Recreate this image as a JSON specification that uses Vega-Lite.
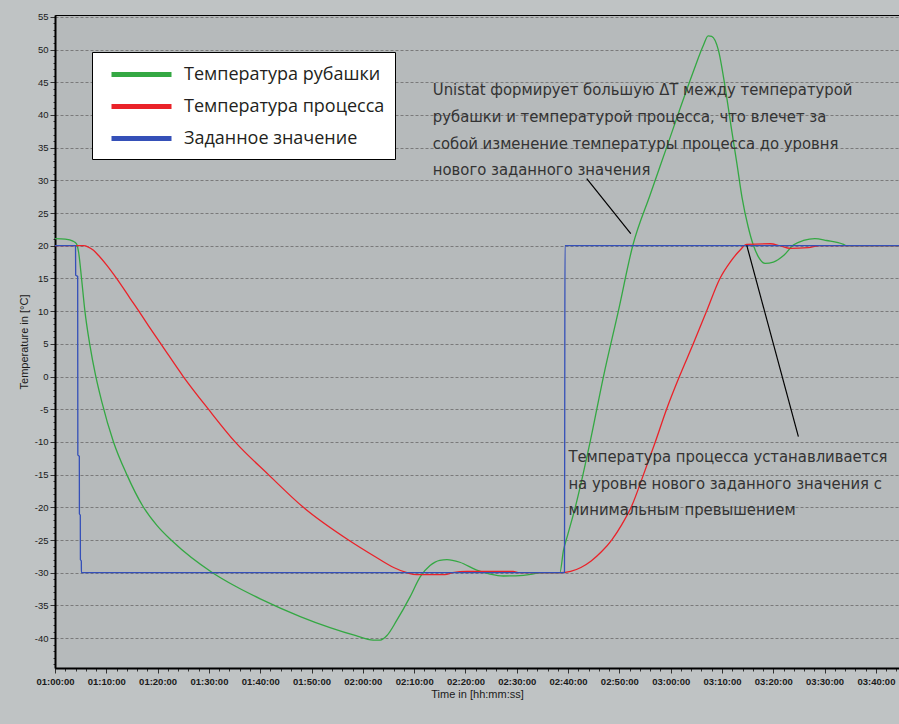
{
  "$schema": "https://vega.github.io/schema/vega-lite/v6.json",
  "width": 844,
  "height": 653,
  "autosize": {"type": "none"},
  "padding": {"left": 55, "top": 15, "right": 0, "bottom": 56},
  "background": "#bfc3c4",
  "config": {
    "view": {"fill": "#b6babb", "stroke": "#000000", "strokeWidth": 1},
    "font": "Liberation Sans"
  },
  "datasets": {
    "series": [
      {"s": "Температура рубашки", "t": 60, "v": 21.1},
      {"s": "Температура рубашки", "t": 62, "v": 21.0},
      {"s": "Температура рубашки", "t": 63.5, "v": 20.7},
      {"s": "Температура рубашки", "t": 64.2, "v": 20.3},
      {"s": "Температура рубашки", "t": 64.6, "v": 19.0},
      {"s": "Температура рубашки", "t": 65.2, "v": 14.8},
      {"s": "Температура рубашки", "t": 65.8, "v": 10.2},
      {"s": "Температура рубашки", "t": 66.8, "v": 4.8},
      {"s": "Температура рубашки", "t": 67.9, "v": 0.2},
      {"s": "Температура рубашки", "t": 69.1, "v": -3.8},
      {"s": "Температура рубашки", "t": 71.4, "v": -10},
      {"s": "Температура рубашки", "t": 74.0, "v": -15},
      {"s": "Температура рубашки", "t": 77.1, "v": -19.8},
      {"s": "Температура рубашки", "t": 79.9, "v": -22.8},
      {"s": "Температура рубашки", "t": 82.9, "v": -25.2},
      {"s": "Температура рубашки", "t": 90.7, "v": -30},
      {"s": "Температура рубашки", "t": 95.0, "v": -32.0},
      {"s": "Температура рубашки", "t": 100.0, "v": -34.0},
      {"s": "Температура рубашки", "t": 107.8, "v": -36.7},
      {"s": "Температура рубашки", "t": 113.6, "v": -38.4},
      {"s": "Температура рубашки", "t": 118.5, "v": -39.6},
      {"s": "Температура рубашки", "t": 122.0, "v": -40.3},
      {"s": "Температура рубашки", "t": 123.4, "v": -40.3},
      {"s": "Температура рубашки", "t": 124.7, "v": -39.6},
      {"s": "Температура рубашки", "t": 126.6, "v": -37.3},
      {"s": "Температура рубашки", "t": 129.2, "v": -33.7},
      {"s": "Температура рубашки", "t": 131.2, "v": -30.6},
      {"s": "Температура рубашки", "t": 133.1, "v": -28.9},
      {"s": "Температура рубашки", "t": 135.0, "v": -28.1},
      {"s": "Температура рубашки", "t": 136.4, "v": -28.0},
      {"s": "Температура рубашки", "t": 138.9, "v": -28.4},
      {"s": "Температура рубашки", "t": 142.2, "v": -29.6},
      {"s": "Температура рубашки", "t": 144.8, "v": -30.2},
      {"s": "Температура рубашки", "t": 147.4, "v": -30.5},
      {"s": "Температура рубашки", "t": 151.3, "v": -30.4},
      {"s": "Температура рубашки", "t": 155.2, "v": -30.0},
      {"s": "Температура рубашки", "t": 158.4, "v": -30.0},
      {"s": "Температура рубашки", "t": 159.1, "v": -26.6},
      {"s": "Температура рубашки", "t": 159.9, "v": -24.3},
      {"s": "Температура рубашки", "t": 161.4, "v": -20},
      {"s": "Температура рубашки", "t": 164.3, "v": -10},
      {"s": "Температура рубашки", "t": 166.9, "v": 0},
      {"s": "Температура рубашки", "t": 169.8, "v": 10},
      {"s": "Температура рубашки", "t": 172.6, "v": 20},
      {"s": "Температура рубашки", "t": 176.0, "v": 27.8},
      {"s": "Температура рубашки", "t": 179.2, "v": 35.0},
      {"s": "Температура рубашки", "t": 181.8, "v": 40.9},
      {"s": "Температура рубашки", "t": 184.4, "v": 46.6},
      {"s": "Температура рубашки", "t": 186.4, "v": 50.7},
      {"s": "Температура рубашки", "t": 187.3, "v": 52.1},
      {"s": "Температура рубашки", "t": 188.0, "v": 52.0},
      {"s": "Температура рубашки", "t": 189.3, "v": 49.9},
      {"s": "Температура рубашки", "t": 190.6, "v": 44.3},
      {"s": "Температура рубашки", "t": 191.9, "v": 37.6},
      {"s": "Температура рубашки", "t": 192.9, "v": 32.6},
      {"s": "Температура рубашки", "t": 193.9, "v": 27.4},
      {"s": "Температура рубашки", "t": 195.1, "v": 22.9},
      {"s": "Температура рубашки", "t": 196.1, "v": 20.1},
      {"s": "Температура рубашки", "t": 197.1, "v": 18.3},
      {"s": "Температура рубашки", "t": 198.4, "v": 17.3},
      {"s": "Температура рубашки", "t": 200.0, "v": 17.5},
      {"s": "Температура рубашки", "t": 202.0, "v": 18.5},
      {"s": "Температура рубашки", "t": 203.9, "v": 20.1},
      {"s": "Температура рубашки", "t": 205.9, "v": 20.8},
      {"s": "Температура рубашки", "t": 208.1, "v": 21.1},
      {"s": "Температура рубашки", "t": 210.4, "v": 20.8},
      {"s": "Температура рубашки", "t": 213.7, "v": 20.2},
      {"s": "Температура рубашки", "t": 214.3, "v": 20.0},
      {"s": "Температура рубашки", "t": 224.5, "v": 20.0},
      {"s": "Температура процесса", "t": 60, "v": 20},
      {"s": "Температура процесса", "t": 65.5, "v": 20},
      {"s": "Температура процесса", "t": 66.5, "v": 19.8},
      {"s": "Температура процесса", "t": 67.5, "v": 19.3},
      {"s": "Температура процесса", "t": 68.5, "v": 18.5},
      {"s": "Температура процесса", "t": 70, "v": 17.1},
      {"s": "Температура процесса", "t": 72, "v": 15.0},
      {"s": "Температура процесса", "t": 74.6, "v": 12.0},
      {"s": "Температура процесса", "t": 76.6, "v": 9.7},
      {"s": "Температура процесса", "t": 78.7, "v": 7.2},
      {"s": "Температура процесса", "t": 80.8, "v": 4.8},
      {"s": "Температура процесса", "t": 85, "v": 0},
      {"s": "Температура процесса", "t": 89.9, "v": -5},
      {"s": "Температура процесса", "t": 95.1, "v": -10},
      {"s": "Температура процесса", "t": 101.6, "v": -15},
      {"s": "Температура процесса", "t": 108.4, "v": -20},
      {"s": "Температура процесса", "t": 117.2, "v": -25},
      {"s": "Температура процесса", "t": 122.5, "v": -27.6},
      {"s": "Температура процесса", "t": 126, "v": -29.2},
      {"s": "Температура процесса", "t": 128.6, "v": -30},
      {"s": "Температура процесса", "t": 130.5, "v": -30.3},
      {"s": "Температура процесса", "t": 136.0, "v": -30.3},
      {"s": "Температура процесса", "t": 137.5, "v": -30.0},
      {"s": "Температура процесса", "t": 140.3, "v": -29.8},
      {"s": "Температура процесса", "t": 149.3, "v": -29.8},
      {"s": "Температура процесса", "t": 150.5, "v": -30},
      {"s": "Температура процесса", "t": 158.4, "v": -30},
      {"s": "Температура процесса", "t": 160.5, "v": -29.8},
      {"s": "Температура процесса", "t": 162.5, "v": -29.2},
      {"s": "Температура процесса", "t": 164.5, "v": -28.2},
      {"s": "Температура процесса", "t": 166.5, "v": -26.8},
      {"s": "Температура процесса", "t": 168.5, "v": -25},
      {"s": "Температура процесса", "t": 170.5, "v": -22.6},
      {"s": "Температура процесса", "t": 172.4, "v": -19.8},
      {"s": "Температура процесса", "t": 174.7, "v": -15},
      {"s": "Температура процесса", "t": 177.0, "v": -10},
      {"s": "Температура процесса", "t": 179.2, "v": -5},
      {"s": "Температура процесса", "t": 181.7, "v": 0},
      {"s": "Температура процесса", "t": 184.4, "v": 5},
      {"s": "Температура процесса", "t": 187.0, "v": 10},
      {"s": "Температура процесса", "t": 189.6, "v": 15},
      {"s": "Температура процесса", "t": 191.6, "v": 17.5},
      {"s": "Температура процесса", "t": 193.5, "v": 19.3},
      {"s": "Температура процесса", "t": 194.8, "v": 20.2},
      {"s": "Температура процесса", "t": 199.4, "v": 20.3},
      {"s": "Температура процесса", "t": 201.3, "v": 20.0},
      {"s": "Температура процесса", "t": 203.3, "v": 19.6},
      {"s": "Температура процесса", "t": 206.8, "v": 19.7},
      {"s": "Температура процесса", "t": 209.1, "v": 20},
      {"s": "Температура процесса", "t": 224.5, "v": 20},
      {"s": "Заданное значение", "t": 60, "v": 20},
      {"s": "Заданное значение", "t": 64.0, "v": 20},
      {"s": "Заданное значение", "t": 64.03, "v": 15.5},
      {"s": "Заданное значение", "t": 64.42, "v": 15.3},
      {"s": "Заданное значение", "t": 64.45, "v": -12},
      {"s": "Заданное значение", "t": 64.74, "v": -12.2},
      {"s": "Заданное значение", "t": 64.76, "v": -21},
      {"s": "Заданное значение", "t": 64.93, "v": -21.2},
      {"s": "Заданное значение", "t": 64.95, "v": -28},
      {"s": "Заданное значение", "t": 65.13, "v": -28.2},
      {"s": "Заданное значение", "t": 65.15, "v": -30},
      {"s": "Заданное значение", "t": 159.3, "v": -30},
      {"s": "Заданное значение", "t": 159.35, "v": -5},
      {"s": "Заданное значение", "t": 159.4, "v": 20},
      {"s": "Заданное значение", "t": 224.5, "v": 20}
    ],
    "notes": [
      {"t": 133.63, "v": 43.0, "txt": "Unistat формирует большую ΔT между температурой"},
      {"t": 133.63, "v": 38.91, "txt": "рубашки и температурой процесса, что влечет за"},
      {"t": 133.63, "v": 34.85, "txt": "собой изменение температуры процесса до уровня"},
      {"t": 133.63, "v": 30.76, "txt": "нового заданного значения"},
      {"t": 160.06, "v": -13.07, "txt": "Температура процесса устанавливается"},
      {"t": 160.06, "v": -17.25, "txt": "на уровне нового заданного значения с"},
      {"t": 160.06, "v": -21.22, "txt": "минимальным превышением"}
    ],
    "pointers": [
      {"t": 163.64, "v": 30.26, "t2": 172.22, "v2": 21.85},
      {"t": 194.83, "v": 20.06, "t2": 204.89, "v2": -9.2}
    ]
  },
  "encoding": {
    "x": {
      "field": "t",
      "type": "quantitative",
      "scale": {"domain": [60, 224.5], "nice": false, "zero": false},
      "axis": {
        "title": "Time in [hh:mm:ss]",
        "values": [60,62,64,66,68,70,72,74,76,78,80,82,84,86,88,90,92,94,96,98,100,102,104,106,108,110,112,114,116,118,120,122,124,126,128,130,132,134,136,138,140,142,144,146,148,150,152,154,156,158,160,162,164,166,168,170,172,174,176,178,180,182,184,186,188,190,192,194,196,198,200,202,204,206,208,210,212,214,216,218,220,222,224],
        "labelExpr": "datum.value % 10 == 0 ? '0' + floor(datum.value / 60) + ':' + (datum.value % 60 < 10 ? '0' : '') + (datum.value % 60) + ':00' : ''",
        "labelFont": "Liberation Sans",
        "labelFontSize": 9.5,
        "labelFontWeight": "bold",
        "labelColor": "#1a1a1a",
        "labelPadding": 3,
        "labelOverlap": false,
        "labelFlush": false,
        "tickColor": "#333333",
        "tickSize": {"condition": {"test": "datum.value % 10 == 0", "value": 5}, "value": 3},
        "domainColor": "#000000",
        "domainWidth": 2,
        "grid": false,
        "titleFont": "Liberation Sans",
        "titleFontSize": 11,
        "titleFontWeight": "normal",
        "titleColor": "#1a1a1a",
        "titlePadding": 3
      }
    },
    "y": {
      "field": "v",
      "type": "quantitative",
      "scale": {"domain": [-44.57, 55.28], "nice": false, "zero": false},
      "axis": {
        "title": "Temperature in [°C]",
        "values": [-44,-43,-42,-41,-40,-39,-38,-37,-36,-35,-34,-33,-32,-31,-30,-29,-28,-27,-26,-25,-24,-23,-22,-21,-20,-19,-18,-17,-16,-15,-14,-13,-12,-11,-10,-9,-8,-7,-6,-5,-4,-3,-2,-1,0,1,2,3,4,5,6,7,8,9,10,11,12,13,14,15,16,17,18,19,20,21,22,23,24,25,26,27,28,29,30,31,32,33,34,35,36,37,38,39,40,41,42,43,44,45,46,47,48,49,50,51,52,53,54,55],
        "labelExpr": "datum.value % 5 == 0 ? '' + datum.value : ''",
        "labelFont": "Liberation Sans",
        "labelFontSize": 9.5,
        "labelColor": "#1a1a1a",
        "labelPadding": 2,
        "labelOverlap": false,
        "labelFlush": false,
        "tickColor": "#333333",
        "tickSize": {"condition": {"test": "datum.value % 5 == 0", "value": 5}, "value": 2},
        "domainColor": "#000000",
        "domainWidth": 2,
        "grid": true,
        "gridColor": "#7a7a7a",
        "gridDash": [3, 2],
        "gridWidth": 1,
        "gridOpacity": {"condition": {"test": "datum.value % 5 == 0", "value": 1}, "value": 0},
        "titleFont": "Liberation Sans",
        "titleFontSize": 11,
        "titleFontWeight": "normal",
        "titleColor": "#1a1a1a",
        "titlePadding": 5
      }
    }
  },
  "layer": [
    {
      "data": {"name": "series"},
      "mark": {"type": "line", "strokeWidth": 1.3, "interpolate": "monotone"},
      "encoding": {
        "color": {
          "field": "s",
          "type": "nominal",
          "scale": {
            "domain": ["Температура рубашки", "Температура процесса", "Заданное значение"],
            "range": ["#34a843", "#ea2229", "#3550b8"]
          },
          "legend": {
            "orient": "none",
            "legendX": 37,
            "legendY": 37,
            "title": null,
            "fillColor": "#ffffff",
            "strokeColor": "#000000",
            "padding": 10,
            "cornerRadius": 0,
            "symbolType": "M-3,0H3",
            "symbolSize": 400,
            "symbolStrokeWidth": 5,
            "symbolOffset": 27,
            "labelOffset": 30,
            "labelFont": "Open Sans",
            "labelFontSize": 18,
            "labelColor": "#231f20",
            "labelLimit": 0,
            "rowPadding": 9
          }
        }
      }
    },
    {
      "data": {"name": "notes"},
      "mark": {"type": "text", "align": "left", "baseline": "alphabetic", "font": "DejaVu Sans Condensed", "fontSize": 16.5, "color": "#333333"},
      "encoding": {"text": {"field": "txt", "type": "nominal"}}
    },
    {
      "data": {"name": "pointers"},
      "mark": {"type": "rule", "color": "#000000", "strokeWidth": 1.2},
      "encoding": {
        "x2": {"field": "t2"},
        "y2": {"field": "v2"}
      }
    }
  ]
}
